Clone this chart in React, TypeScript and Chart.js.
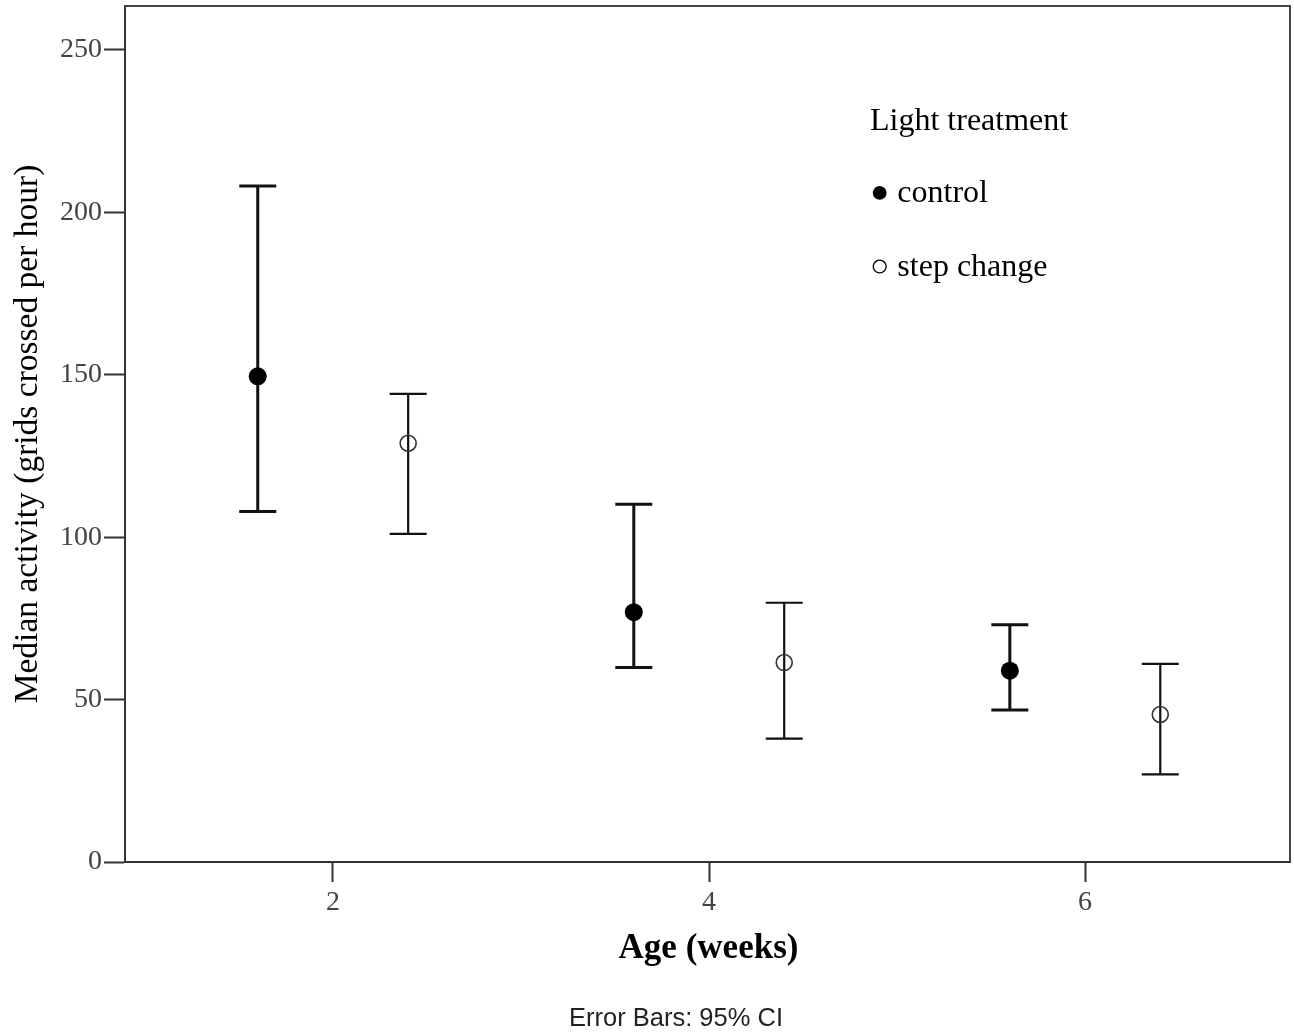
import React, { useEffect, useRef } from "react";
import { Chart, registerables } from "chart.js";

Chart.register(...registerables);

// ---- data ----
const weeksControl = [1.6, 3.6, 5.6];
const weeksStep = [2.4, 4.4, 6.4];
const controlMedian = [149.5, 76.9, 58.9];
const controlLower = [107.9, 59.9, 46.8];
const controlUpper = [208.1, 110.1, 73.0];
const stepMedian = [128.9, 61.4, 45.4];
const stepLower = [101.0, 38.0, 27.0];
const stepUpper = [144.1, 79.8, 61.0];
const xTicks = [2, 4, 6];
const yTicks = [0, 50, 100, 150, 200, 250];
const seriesNames = ["control", "step change"];
const legendTitle = "Light treatment";
const xTitle = "Age (weeks)";
const yTitle = "Median activity (grids crossed per hour)";
const footnote = "Error Bars: 95% CI";

const SERIF = '"Liberation Serif", "Times New Roman", serif';
const SANS = '"Liberation Sans", Arial, sans-serif';

const errorSets = [
  { xs: weeksControl, lo: controlLower, hi: controlUpper, width: 3 },
  { xs: weeksStep, lo: stepLower, hi: stepUpper, width: 2.2 },
];

const errorBarPlugin = {
  id: "errorBars",
  beforeDatasetsDraw(chart: any) {
    const { ctx, scales } = chart;
    const x = scales.x;
    const y = scales.y;
    ctx.save();
    ctx.strokeStyle = "#111";
    ctx.lineCap = "butt";
    errorSets.forEach((s) => {
      ctx.lineWidth = s.width;
      s.xs.forEach((xv: number, i: number) => {
        const px = x.getPixelForValue(xv);
        const pl = y.getPixelForValue(s.lo[i]);
        const ph = y.getPixelForValue(s.hi[i]);
        ctx.beginPath();
        ctx.moveTo(px, pl);
        ctx.lineTo(px, ph);
        ctx.moveTo(px - 18.5, ph);
        ctx.lineTo(px + 18.5, ph);
        ctx.moveTo(px - 18.5, pl);
        ctx.lineTo(px + 18.5, pl);
        ctx.stroke();
      });
    });
    ctx.restore();
  },
};

const decorPlugin = {
  id: "decor",
  afterDraw(chart: any) {
    const { ctx, chartArea } = chart;
    ctx.save();
    // frame top & right
    ctx.strokeStyle = "#444";
    ctx.lineWidth = 2;
    ctx.beginPath();
    ctx.moveTo(chartArea.left, chartArea.top);
    ctx.lineTo(chartArea.right, chartArea.top);
    ctx.lineTo(chartArea.right, chartArea.bottom);
    ctx.stroke();

    ctx.fillStyle = "#000";
    ctx.textBaseline = "alphabetic";

    // y title
    ctx.save();
    ctx.font = `33.5px ${SERIF}`;
    ctx.textAlign = "center";
    ctx.translate(37, (chartArea.top + chartArea.bottom) / 2);
    ctx.rotate(-Math.PI / 2);
    ctx.fillText(yTitle, 0, 0);
    ctx.restore();

    // x title
    ctx.font = `bold 35px ${SERIF}`;
    ctx.textAlign = "center";
    ctx.fillText(xTitle, (chartArea.left + chartArea.right) / 2 + 1, 958);

    // footnote
    ctx.font = `25.5px ${SANS}`;
    ctx.fillStyle = "#222";
    ctx.fillText(footnote, 676, 1026);

    // legend
    ctx.fillStyle = "#000";
    ctx.textAlign = "left";
    ctx.font = `32px ${SERIF}`;
    ctx.fillText(legendTitle, 870, 130);
    ctx.fillText("\u25CF " + seriesNames[0], 870, 202);
    ctx.fillText("\u25CB " + seriesNames[1], 870, 276);
    ctx.restore();
  },
};

export default function App() {
  const ref = useRef<HTMLCanvasElement | null>(null);

  useEffect(() => {
    if (!ref.current) return;
    const chart = new Chart(ref.current, {
      type: "scatter",
      data: {
        datasets: [
          {
            label: seriesNames[0],
            data: weeksControl.map((w, i) => ({ x: w, y: controlMedian[i] })),
            pointRadius: 9,
            pointBackgroundColor: "#000",
            pointBorderColor: "#000",
            pointBorderWidth: 0,
            showLine: false,
          },
          {
            label: seriesNames[1],
            data: weeksStep.map((w, i) => ({ x: w, y: stepMedian[i] })),
            pointRadius: 8,
            pointBackgroundColor: "rgba(0,0,0,0)",
            pointBorderColor: "#333",
            pointBorderWidth: 1.6,
            showLine: false,
          },
        ],
      },
      options: {
        animation: false,
        responsive: false,
        devicePixelRatio: 1,
        layout: { autoPadding: false, padding: { top: 6, right: 4, left: 0, bottom: 0 } },
        plugins: {
          legend: { display: false },
          tooltip: { enabled: false },
        },
        scales: {
          x: {
            type: "linear",
            min: 0.894,
            max: 7.09,
            afterBuildTicks: (s: any) => {
              s.ticks = xTicks.map((v) => ({ value: v }));
            },
            afterFit: (s: any) => {
              s.height = 172;
              s.paddingLeft = 0;
              s.paddingRight = 0;
            },
            ticks: {
              font: { family: SERIF, size: 28 },
              color: "#444",
              padding: 4,
              maxRotation: 0,
              autoSkip: false,
              callback: (v: any) => String(v),
            },
            grid: {
              drawOnChartArea: false,
              drawTicks: true,
              tickLength: 20,
              tickWidth: 2,
              tickColor: "#333",
            },
            border: { display: true, color: "#333", width: 2 },
          },
          y: {
            type: "linear",
            min: 0,
            max: 263.5,
            afterBuildTicks: (s: any) => {
              s.ticks = yTicks.map((v) => ({ value: v }));
            },
            afterFit: (s: any) => {
              s.width = 125;
              s.paddingTop = 0;
              s.paddingBottom = 0;
            },
            ticks: {
              font: { family: SERIF, size: 28 },
              color: "#444",
              padding: 2,
              autoSkip: false,
              callback: (v: any) => String(v),
            },
            grid: {
              drawOnChartArea: false,
              drawTicks: true,
              tickLength: 21,
              tickWidth: 2,
              tickColor: "#333",
            },
            border: { display: true, color: "#333", width: 2 },
          },
        },
      },
      plugins: [errorBarPlugin, decorPlugin],
    } as any);
    return () => chart.destroy();
  }, []);

  return (
    <div style={{ position: "absolute", left: 0, top: 0, width: 1294, height: 1034, background: "#fff" }}>
      <canvas ref={ref} width={1294} height={1034} style={{ display: "block" }} />
    </div>
  );
}
